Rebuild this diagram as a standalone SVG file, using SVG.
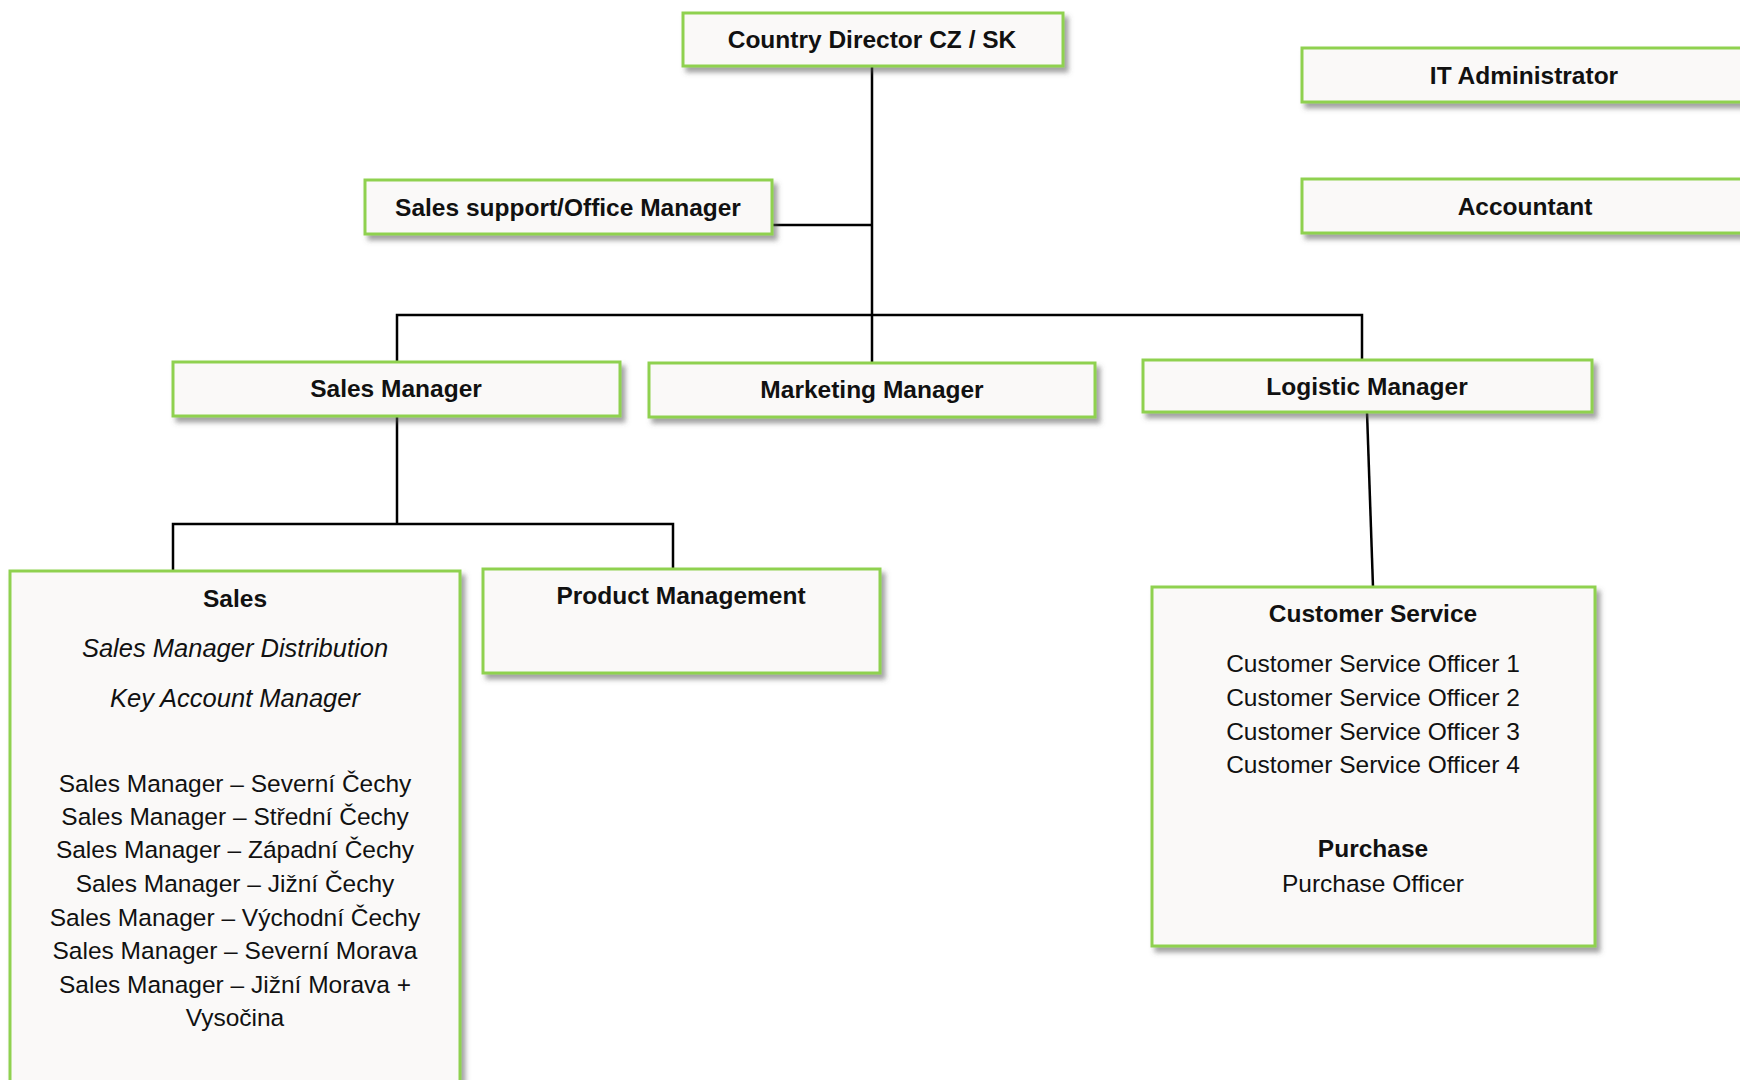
<svg xmlns="http://www.w3.org/2000/svg" width="1740" height="1080" viewBox="0 0 1740 1080">
<style>
.box{fill:#faf9f8;stroke:#8fd150;stroke-width:3;filter:url(#sh)}
.t{font-family:"Liberation Sans",Arial,sans-serif;font-size:24.5px;fill:#111;text-anchor:middle}
.b{font-weight:bold;font-size:24.5px}
.i{font-style:italic;font-size:25.5px}
.conn{stroke:#000;stroke-width:2.5;fill:none}
</style>
<defs>
<filter id="sh" x="-10%" y="-10%" width="130%" height="140%">
<feDropShadow dx="4" dy="5" stdDeviation="2.5" flood-color="#555" flood-opacity="0.55"/>
</filter>
</defs>
<rect width="1740" height="1080" fill="#fff"/>
<g id="connectors">
<path class="conn" d="M872 66 V363"/>
<path class="conn" d="M772 225 H872"/>
<path class="conn" d="M397 362 V315 H1362 V360"/>
<path class="conn" d="M397 416 V524"/>
<path class="conn" d="M173 571 V524 H673 V569"/>
<path class="conn" d="M1367 412 L1373 587"/>
</g>
<g id="country-director">
<rect class="box" x="683" y="13" width="380" height="53"/>
<text class="t b" x="872" y="48">Country Director CZ / SK</text>
</g>
<g id="it-administrator">
<rect class="box" x="1302" y="48" width="444" height="54"/>
<text class="t b" x="1524" y="84">IT Administrator</text>
</g>
<g id="accountant">
<rect class="box" x="1302" y="179" width="444" height="54"/>
<text class="t b" x="1525" y="215">Accountant</text>
</g>
<g id="sales-support">
<rect class="box" x="365" y="180" width="407" height="54"/>
<text class="t b" x="568" y="216">Sales support/Office Manager</text>
</g>
<g id="sales-manager">
<rect class="box" x="173" y="362" width="447" height="54"/>
<text class="t b" x="396" y="397">Sales Manager</text>
</g>
<g id="marketing-manager">
<rect class="box" x="649" y="363" width="446" height="54"/>
<text class="t b" x="872" y="398">Marketing Manager</text>
</g>
<g id="logistic-manager">
<rect class="box" x="1143" y="360" width="449" height="52"/>
<text class="t b" x="1367" y="395">Logistic Manager</text>
</g>
<g id="sales">
<rect class="box" x="10" y="571" width="450" height="530"/>
<text class="t b" x="235" y="607">Sales</text>
<text class="t i" x="235" y="657">Sales Manager Distribution</text>
<text class="t i" x="235" y="707">Key Account Manager</text>
<text class="t" x="235" y="792">Sales Manager – Severní Čechy</text>
<text class="t" x="235" y="825">Sales Manager – Střední Čechy</text>
<text class="t" x="235" y="858">Sales Manager – Západní Čechy</text>
<text class="t" x="235" y="892">Sales Manager – Jižní Čechy</text>
<text class="t" x="235" y="926">Sales Manager – Východní Čechy</text>
<text class="t" x="235" y="959">Sales Manager – Severní Morava</text>
<text class="t" x="235" y="993">Sales Manager – Jižní Morava +</text>
<text class="t" x="235" y="1026">Vysočina</text>
</g>
<g id="product-management">
<rect class="box" x="483" y="569" width="397" height="104"/>
<text class="t b" x="681" y="604">Product Management</text>
</g>
<g id="customer-service">
<rect class="box" x="1152" y="587" width="443" height="359"/>
<text class="t b" x="1373" y="622">Customer Service</text>
<text class="t" x="1373" y="672">Customer Service Officer 1</text>
<text class="t" x="1373" y="706">Customer Service Officer 2</text>
<text class="t" x="1373" y="740">Customer Service Officer 3</text>
<text class="t" x="1373" y="773">Customer Service Officer 4</text>
<text class="t b" x="1373" y="857">Purchase</text>
<text class="t" x="1373" y="892">Purchase Officer</text>
</g>
</svg>
